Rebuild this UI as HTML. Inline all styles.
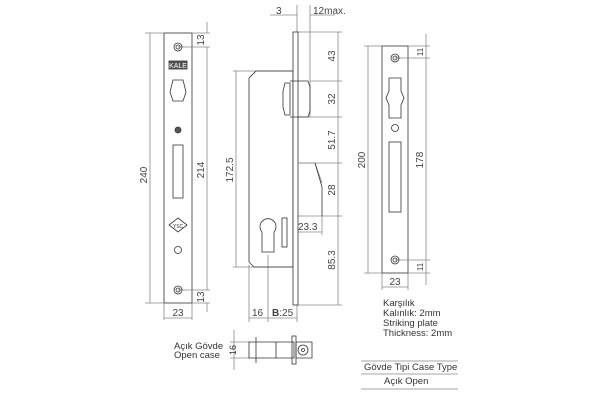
<!DOCTYPE html>
<html><head><style>body{margin:0;background:#fff}svg{display:block}</style></head><body>
<svg width="600" height="400" viewBox="0 0 600 400" xmlns="http://www.w3.org/2000/svg" font-family="Liberation Sans, sans-serif" fill="none" stroke="#333" stroke-width="0.8">
<!-- left faceplate -->
<rect x="164" y="33" width="28" height="270" fill="#fff"/>
<g stroke="#888">
<line x1="150" y1="33" x2="150" y2="303"/><line x1="145" y1="33" x2="164" y2="33"/><line x1="145" y1="303" x2="164" y2="303"/>
<line x1="207" y1="47" x2="207" y2="290"/><line x1="178" y1="47" x2="210" y2="47"/><line x1="178" y1="290" x2="210" y2="290"/>
<line x1="192" y1="33" x2="210" y2="33"/><line x1="192" y1="303" x2="210" y2="303"/>
<line x1="207" y1="22" x2="207" y2="33"/><line x1="207" y1="303" x2="207" y2="312"/>
<line x1="164" y1="303" x2="164" y2="320"/><line x1="192" y1="303" x2="192" y2="320"/><line x1="164" y1="318" x2="192" y2="318"/>
</g>
<circle cx="178" cy="47" r="4"/><circle cx="178" cy="47" r="2"/>
<circle cx="178" cy="290" r="4"/><circle cx="178" cy="290" r="2"/>
<circle cx="178" cy="250" r="3.5"/><circle cx="178" cy="130" r="3" fill="#555"/>
<rect x="169" y="61" width="18" height="8" fill="#555"/><text x="178" y="68" font-size="7" fill="#fff" stroke="none" text-anchor="middle">KALE</text>
<path d="M173 80h10l3 12-3 9h-10l-3-9z"/>
<rect x="173" y="145" width="10" height="53"/>
<path d="M178 218l9 7-9 7-9-7z"/><text x="178" y="228" font-size="5" fill="#333" stroke="none" text-anchor="middle">YSC</text>
<g fill="#444" stroke="none" font-size="10">
<text x="150" y="175" transform="rotate(-90 150 175)" text-anchor="middle" dy="-3">240</text>
<text x="207" y="170" transform="rotate(-90 207 170)" text-anchor="middle" dy="-3">214</text>
<text x="207" y="40" transform="rotate(-90 207 40)" text-anchor="middle" dy="-3">13</text>
<text x="207" y="297" transform="rotate(-90 207 297)" text-anchor="middle" dy="-3">13</text>
<text x="178" y="316" text-anchor="middle">23</text>
</g>
<!-- case side -->
<g stroke="#888">
<line x1="233" y1="71" x2="293" y2="71"/><line x1="233" y1="267" x2="293" y2="267"/>
<line x1="236" y1="71" x2="236" y2="267"/>
<line x1="297" y1="5" x2="297" y2="32"/><line x1="310" y1="5" x2="310" y2="117"/>
<line x1="270" y1="15" x2="297" y2="15"/><line x1="310" y1="15" x2="335" y2="15"/>
<line x1="297" y1="32" x2="342" y2="32"/><line x1="310" y1="81" x2="342" y2="81"/><line x1="297" y1="117" x2="342" y2="117"/>
<line x1="297" y1="163" x2="342" y2="163"/><line x1="297" y1="216" x2="342" y2="216"/><line x1="297" y1="305" x2="342" y2="305"/>
<line x1="338" y1="32" x2="338" y2="305"/>
<line x1="297" y1="232" x2="322" y2="232"/><line x1="322" y1="216" x2="322" y2="235"/>
<line x1="249" y1="265" x2="249" y2="322"/><line x1="268" y1="255" x2="268" y2="322"/><line x1="297" y1="305" x2="297" y2="322"/>
<line x1="249" y1="318" x2="297" y2="318"/>
</g>
<path d="M256 71h37v196h-39l-5-5V78z" />
<rect x="293" y="32" width="5" height="273" fill="#fff"/>
<path d="M285 83h5v32h-5l-2-8v-16z"/><path d="M290 81h18l2 6v24l-2 6h-18"/>
<path d="M298 163h17l7 20v-0" stroke="#888"/><path d="M315 163l7 24v29"/>
<path d="M262 232a8 8 0 1 1 12 0v20h-12z"/>
<rect x="282" y="218" width="5" height="29"/>
<g fill="#444" stroke="none" font-size="10">
<text x="276" y="14">3</text><text x="313" y="14">12max.</text>
<text x="236" y="170" transform="rotate(-90 236 170)" text-anchor="middle" dy="-3">172.5</text>
<text x="338" y="56" transform="rotate(-90 338 56)" text-anchor="middle" dy="-3">43</text>
<text x="338" y="99" transform="rotate(-90 338 99)" text-anchor="middle" dy="-3">32</text>
<text x="338" y="140" transform="rotate(-90 338 140)" text-anchor="middle" dy="-3">51.7</text>
<text x="338" y="190" transform="rotate(-90 338 190)" text-anchor="middle" dy="-3">28</text>
<text x="338" y="260" transform="rotate(-90 338 260)" text-anchor="middle" dy="-3">85.3</text>
<text x="298" y="230">23.3</text>
<text x="252" y="316">16</text><text x="272" y="316"><tspan font-weight="bold">B</tspan>:25</text>
</g>
<!-- strike plate -->
<rect x="382" y="46" width="26" height="227"/>
<g stroke="#888">
<line x1="368" y1="46" x2="368" y2="273"/><line x1="364" y1="46" x2="382" y2="46"/><line x1="364" y1="273" x2="382" y2="273"/>
<line x1="426" y1="34" x2="426" y2="285"/><line x1="395" y1="58" x2="430" y2="58"/><line x1="395" y1="260" x2="430" y2="260"/>
<line x1="408" y1="46" x2="430" y2="46"/><line x1="408" y1="273" x2="430" y2="273"/>
<line x1="382" y1="273" x2="382" y2="290"/><line x1="408" y1="273" x2="408" y2="290"/><line x1="382" y1="287" x2="408" y2="287"/>
</g>
<circle cx="395" cy="58" r="4"/><circle cx="395" cy="58" r="2"/>
<circle cx="395" cy="260" r="4"/><circle cx="395" cy="260" r="2"/>
<circle cx="395" cy="128" r="3.5"/>
<path d="M389 78h12v13l3 7-3 7v13h-12v-13l-3-7 3-7z"/>
<rect x="389" y="142" width="12" height="70"/>
<g fill="#444" stroke="none" font-size="10">
<text x="368" y="160" transform="rotate(-90 368 160)" text-anchor="middle" dy="-3">200</text>
<text x="426" y="160" transform="rotate(-90 426 160)" text-anchor="middle" dy="-3">178</text>
<text x="426" y="52" transform="rotate(-90 426 52)" text-anchor="middle" dy="-3" font-size="8">11</text>
<text x="426" y="267" transform="rotate(-90 426 267)" text-anchor="middle" dy="-3" font-size="8">11</text>
<text x="395" y="285" text-anchor="middle">23</text>
</g>
<!-- bottom view -->
<g stroke="#888"><line x1="234" y1="330" x2="234" y2="370"/><line x1="230" y1="342" x2="250" y2="342"/><line x1="230" y1="358" x2="250" y2="358"/></g>
<path d="M249 342h45v16h-45z"/><line x1="256" y1="337" x2="256" y2="363"/><line x1="276" y1="342" x2="276" y2="358"/>
<rect x="292" y="336" width="4" height="28"/>
<path d="M296 342h16v16h-16z"/><circle cx="303" cy="350" r="5"/><circle cx="303" cy="350" r="1.5"/>
<g fill="#333" stroke="none" font-size="9.5">
<text x="234" y="354" transform="rotate(-90 234 350)" text-anchor="middle" font-size="9" dy="-2">16</text>
<text x="174" y="349">Açık Gövde</text><text x="174" y="358">Open case</text>
<text x="383" y="306">Karşılık</text><text x="383" y="316">Kalınlık: 2mm</text>
<text x="383" y="326">Striking plate</text><text x="383" y="336">Thickness: 2mm</text>
<text x="364" y="370">Gövde Tipi Case Type</text><text x="384" y="384">Açık Open</text>
</g>
<g stroke="#888"><line x1="361" y1="361" x2="458" y2="361"/><line x1="361" y1="374" x2="458" y2="374"/><line x1="361" y1="389" x2="458" y2="389"/></g>
</svg>
</body></html>
